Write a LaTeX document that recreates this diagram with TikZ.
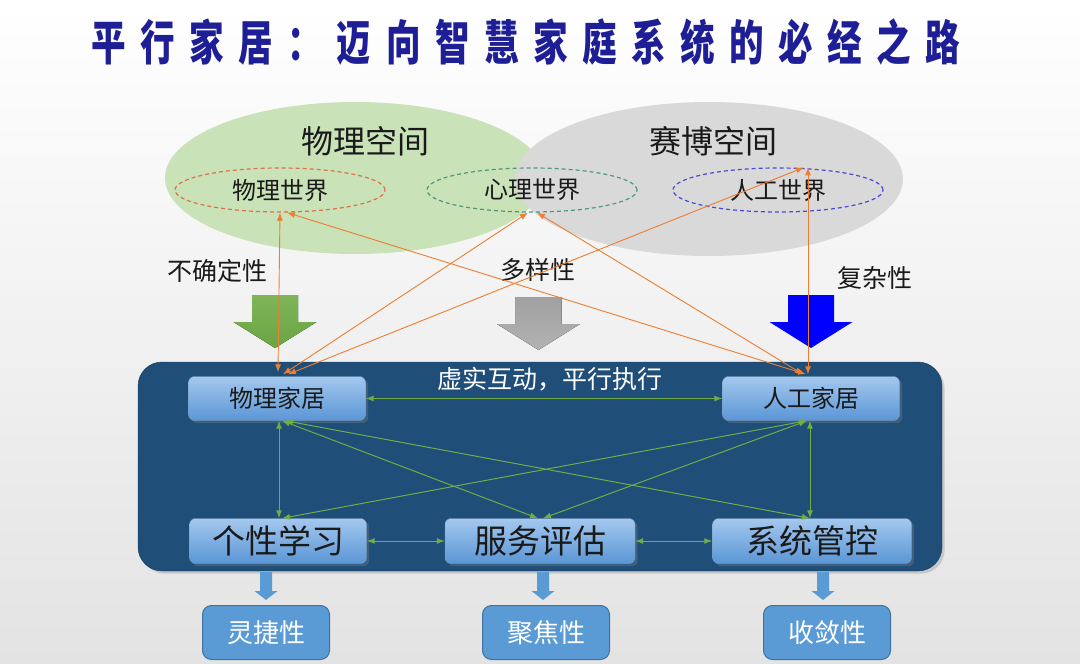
\documentclass[tikz,border=0pt]{standalone}
\usepackage{fontspec}
\setmainfont{Noto Sans CJK SC}
\newfontfamily\titlefont[FakeStretch=0.72]{Noto Sans CJK SC}
\usetikzlibrary{arrows.meta,positioning,shapes.geometric,shadows}
\usepackage{xcolor}
\definecolor{navy}{HTML}{1E1E96}
\definecolor{leaf}{HTML}{C9E2B8}
\definecolor{cloud}{HTML}{D9D9D9}
\definecolor{ink}{HTML}{1A1A1A}
\definecolor{rust}{HTML}{E0704C}
\definecolor{mint}{HTML}{4C9A7A}
\definecolor{violet}{HTML}{4A4AD8}
\definecolor{tang}{HTML}{ED7D31}
\definecolor{grass}{HTML}{70AD47}
\definecolor{deep}{HTML}{1F4E79}
\definecolor{sky}{HTML}{5B9BD5}
\definecolor{skyedge}{HTML}{41719C}
\definecolor{boxtop}{HTML}{A4C8EE}
\definecolor{boxbot}{HTML}{5A96D6}
\newcommand{\fsz}[1]{\fontsize{#1}{#1}\selectfont}
\newcommand{\tsp}{\hspace{14.5pt}}
% fat down arrow: centre x, top y, fill options
\newcommand{\fatarrow}[3]{%
  \fill[#3] (#1-23,#2) -- (#1+23,#2) -- (#1+23,#2+27) -- (#1+41.5,#2+27)
    -- (#1,#2+53) -- (#1-41.5,#2+27) -- (#1-23,#2+27) -- cycle;}
\newcommand{\thinarrow}[2]{%
  \fill[sky] (#1-6,#2) -- (#1+6,#2) -- (#1+6,#2+19) -- (#1+11.5,#2+19)
    -- (#1,#2+28) -- (#1-11.5,#2+19) -- (#1-6,#2+19) -- cycle;}
\tikzset{
  space/.style={ellipse,inner sep=0pt},
  world/.style={ellipse,dash pattern=on 4pt off 3pt,line width=1.2pt,minimum width=210pt,minimum height=44pt,inner sep=0pt,text=ink,font=\fsz{24}},
  home/.style={rounded corners=6pt,top color=boxtop,bottom color=boxbot,draw=skyedge!70,minimum width=177pt,minimum height=44pt,text=ink,font=\fsz{24},drop shadow={opacity=0.35}},
  unit/.style={home,minimum height=45pt,font=\fsz{33}},
  outcome/.style={rounded corners=9pt,fill=sky,draw=skyedge,line width=1pt,text=white,minimum width=127pt,minimum height=54pt,font=\fsz{26}},
  link/.style={{Latex[length=8pt,width=6pt]}-{Latex[length=8pt,width=6pt]},line width=0.9pt,draw=tang},
  tie/.style={{Latex[length=8pt,width=6pt]}-{Latex[length=8pt,width=6pt]},line width=1pt,draw=grass}
}

\begin{document}
\begin{tikzpicture}[x=1pt,y=-1pt,font=\fsz{25}]
    \useasboundingbox (0,0) rectangle (1080,664);
    \shade[top color=white,bottom color=black!11] (0,0) rectangle (1080,664);
    \node[text=navy,font=\titlefont\bfseries\fsz{48}] (head) at (526,42)
      {平\tsp 行\tsp 家\tsp 居\tsp ：\tsp 迈\tsp 向\tsp 智\tsp 慧\tsp 家\tsp 庭\tsp 系\tsp 统\tsp 的\tsp 必\tsp 经\tsp 之\tsp 路};

    % two spaces
    \node[space,fill=leaf,minimum width=380pt,minimum height=152pt] (physpace) at (355,178) {};
    \node[space,fill=cloud,minimum width=388pt,minimum height=154pt] (cyberspace) at (709,179) {};
    \node[font=\fsz{32},text=ink] (physlab) at (365,141) {物理空间};
    \node[font=\fsz{32},text=ink] (cyberlab) at (713,141) {赛博空间};
    \node[world,draw=rust] (phys) at (280,190) {物理世界};
    \node[world,draw=mint] (psy) at (532,190) {心理世界};
    \node[world,draw=violet] (art) at (778,190) {人工世界};

    \node[text=ink] (uncert) at (217,271) {不确定性};
    \node[text=ink] (divers) at (538,270) {多样性};
    \node[text=ink] (complex) at (875,278) {复杂性};
    \fatarrow{275}{295}{top color=grass!90,bottom color=grass!95!black}
    \fatarrow{538.5}{297}{top color=black!37,bottom color=black!30}
    \fatarrow{811}{295}{fill=blue}

    % parallel execution panel
    \node[rounded corners=24pt,fill=deep,draw=deep!80!black,minimum width=804pt,minimum height=209pt,drop shadow={opacity=0.3}] (panel) at (540,466.5) {};
    \node[text=white] (mirror) at (550,379) {虚实互动，平行执行};
    \node[home] (physhome) at (277,398.5) {物理家居};
    \node[home] (arthome) at (811,398.5) {人工家居};
    \node[unit,minimum width=177pt] (learn) at (278,541) {个性学习};
    \node[unit,minimum width=190pt] (eval) at (540,541) {服务评估};
    \node[unit,minimum width=199pt] (ctrl) at (812,541) {系统管控};

    \draw[link] (phys.south) -- ([xshift=1pt,yshift=4pt]physhome.north);
    \draw[link] ([xshift=7pt]phys.south) -- ([xshift=-5pt,yshift=2pt]arthome.north);
    \draw[link] ([xshift=-4pt]psy.south) -- ([xshift=6pt,yshift=2pt]physhome.north);
    \draw[link] ([xshift=5pt]psy.south) -- ([xshift=-8pt,yshift=2pt]arthome.north);
    \draw[link] ([xshift=26pt]art.north) -- ([xshift=11pt,yshift=2pt]physhome.north);
    \draw[link] ([xshift=30pt]art.north) -- ([xshift=-3pt,yshift=2pt]arthome.north);

    \draw[tie] (physhome) -- (arthome);
    \draw[tie] ([xshift=2pt]physhome.south) -- ([xshift=1pt]learn.north);
    \draw[tie] ([xshift=5pt]physhome.south) -- ([xshift=-2pt]eval.north);
    \draw[tie] ([xshift=8pt]physhome.south) -- ([xshift=-2pt]ctrl.north);
    \draw[tie] ([xshift=-4pt]arthome.south) -- ([xshift=4pt]learn.north);
    \draw[tie] ([xshift=-4pt]arthome.south) -- ([xshift=3pt]eval.north);
    \draw[tie] ([xshift=-1pt]arthome.south) -- ([xshift=-2pt]ctrl.north);
    \draw[tie] (learn) -- (eval);
    \draw[tie] (eval) -- (ctrl);

    % outcomes
    \thinarrow{266}{572}
    \thinarrow{543}{572}
    \thinarrow{823}{572}
    \node[outcome] (agile) at (266,632.5) {灵捷性};
    \node[outcome] (focus) at (546,632.5) {聚焦性};
    \node[outcome] (conv) at (827,632.5) {收敛性};
  \end{tikzpicture}
\end{document}
